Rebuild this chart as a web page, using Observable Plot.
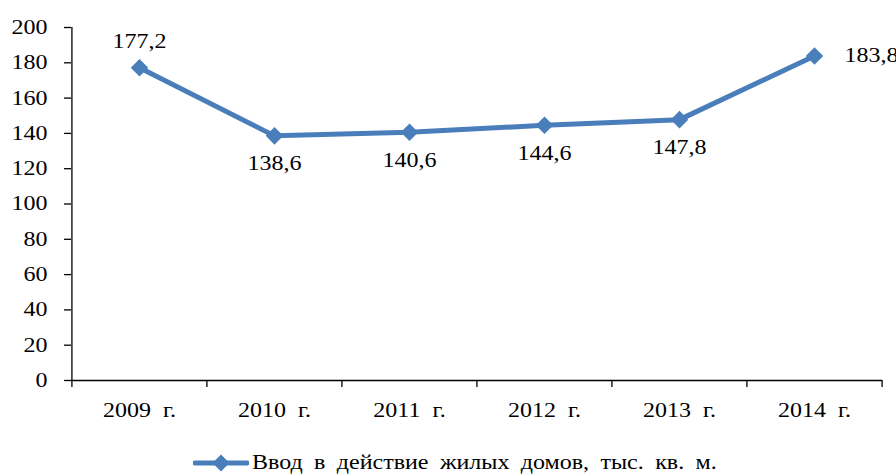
<!DOCTYPE html>
<html><head><meta charset="utf-8">
<script src="https://cdn.jsdelivr.net/npm/d3@7"></script>
<script src="https://cdn.jsdelivr.net/npm/@observablehq/plot@0.6"></script>
<style>
body{margin:0;background:#fff;}
#chart svg, #chart svg text{font-family:"Liberation Serif";}
#chart svg text{word-spacing:5px;}
#legend{position:absolute;left:193px;top:451px;display:flex;align-items:center;font-family:"Liberation Serif";font-size:20px;color:#000;white-space:nowrap;}
#legend svg{margin-right:3px;}
#legend span{display:inline-block;transform:scaleX(1.2);transform-origin:left center;word-spacing:4.5px;}
</style>
</head><body>
<div id="chart"></div>
<div id="legend"></div>
<script>
const years = ["2009 г.", "2010 г.", "2011 г.", "2012 г.", "2013 г.", "2014 г."];
const values = [177.2, 138.6, 140.6, 144.6, 147.8, 183.8];
const yTicks = [0, 20, 40, 60, 80, 100, 120, 140, 160, 180, 200];
const seriesName = "Ввод в действие жилых домов, тыс. кв. м.";
const color = "#4a7ebb";

const data = years.map((year, i) => ({year, value: values[i], i}));
const W = 896, H = 440, ml = 71, mr = 14;
const step = (W - ml - mr) / years.length;
const fmt = v => v.toFixed(1).replace(".", ",");
const last = years.length - 1;

const chart = Plot.plot({
  width: W, height: H,
  marginLeft: ml, marginRight: mr, marginTop: 27, marginBottom: 60,
  style: {fontFamily: "Liberation Serif", fontSize: "20px", color: "#000", background: "#fff", overflow: "visible"},
  x: {type: "point", domain: years, padding: 0.5, align: 0.5, label: null},
  y: {domain: [0, 200], label: null},
  marks: [
    Plot.axisY({ticks: yTicks, tickSize: 7, tickPadding: 17, tickFormat: d => String(d), label: null, stroke: "#000", strokeWidth: 1.3}),
    Plot.axisX({tickSize: 0, tickPadding: 22, label: null}),
    Plot.ruleY([0], {stroke: "#000", strokeWidth: 1.3}),
    Plot.ruleX([years[0]], {y1: 0, y2: 200, dx: -step / 2, stroke: "#000", strokeWidth: 1.3}),
    Plot.ruleX(years, {y1: 0, y2: 0, insetBottom: -7, dx: -step / 2, stroke: "#000", strokeWidth: 1.3}),
    Plot.ruleX([years[last]], {y1: 0, y2: 0, insetBottom: -7, dx: step / 2, stroke: "#000", strokeWidth: 1.3}),
    Plot.line(data, {x: "year", y: "value", stroke: color, strokeWidth: 5}),
    Plot.dot(data, {x: "year", y: "value", symbol: "square", rotate: 45, r: 7, fill: color, stroke: "none"}),
    Plot.text(data.filter(d => d.i === 0), {x: "year", y: "value", text: d => fmt(d.value), dy: -26, fill: "#000"}),
    Plot.text(data.filter(d => d.i > 0 && d.i < last), {x: "year", y: "value", text: d => fmt(d.value), dy: 28, fill: "#000"}),
    Plot.text(data.filter(d => d.i === last), {x: "year", y: "value", text: d => fmt(d.value), dx: 30, textAnchor: "start", fill: "#000"})
  ]
});
document.getElementById("chart").append(chart);

// widen glyphs slightly, like the reference's stretched rendering
d3.select(chart).selectAll("text").each(function () {
  const w = this.getComputedTextLength();
  if (w > 0) {
    this.setAttribute("textLength", (w * 1.2).toFixed(1));
    this.setAttribute("lengthAdjust", "spacingAndGlyphs");
  }
});

const lg = document.getElementById("legend");
lg.innerHTML = `<svg width="56" height="20"><line x1="2" y1="10" x2="54" y2="10" stroke="${color}" stroke-width="5" stroke-linecap="round"/><rect x="22" y="4" width="12" height="12" fill="${color}" transform="rotate(45 28 10)"/></svg><span></span>`;
lg.querySelector("span").textContent = seriesName;
</script>
</body></html>
